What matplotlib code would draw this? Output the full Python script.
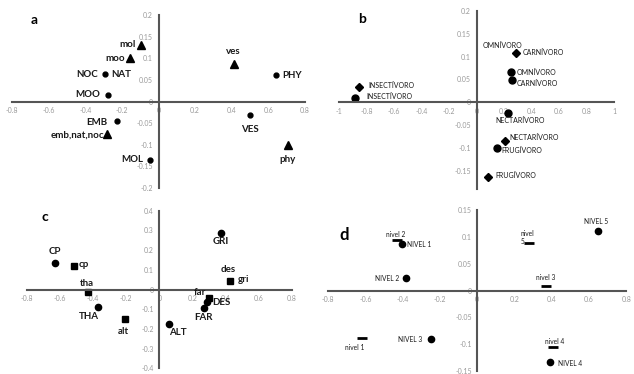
import numpy as np
import matplotlib
matplotlib.use("Agg")
import matplotlib.pyplot as plt
from matplotlib.ticker import FuncFormatter, MultipleLocator

plt.rcParams['font.family'] = ['Lato', 'DejaVu Sans']

# panel a: circles (upper case) and triangles (lower case)
a_dot_names = ['NOC', 'MOO', 'EMB', 'MOL', 'PHY', 'VES']
a_dot_x = [-0.29, -0.275, -0.228, -0.045, 0.64, 0.50]
a_dot_y = [0.063, 0.016, -0.044, -0.136, 0.061, -0.030]
a_tri_names = ['mol', 'moo', 'emb,nat,noc', 'ves', 'phy']
a_tri_x = [-0.095, -0.157, -0.282, 0.41, 0.705]
a_tri_y = [0.131, 0.100, -0.076, 0.086, -0.100]

# panel b: circles and diamonds
b_dot_names = ['INSECTÍVORO', 'OMNÍVORO', 'CARNÍVORO', 'NECTARÍVORO', 'FRUGÍVORO']
b_dot_x = [-0.881, 0.25, 0.255, 0.23, 0.15]
b_dot_y = [0.010, 0.066, 0.048, -0.024, -0.101]
b_dia_names = ['INSECTÍVORO', 'CARNÍVORO', 'NECTARÍVORO', 'FRUGÍVORO']
b_dia_x = [-0.857, 0.286, 0.204, 0.087]
b_dia_y = [0.034, 0.107, -0.085, -0.163]

# panel c: circles and squares
c_dot_names = ['CP', 'THA', 'ALT', 'GRI', 'DES', 'FAR']
c_dot_x = [-0.631, -0.37, 0.06, 0.37, 0.29, 0.27]
c_dot_y = [0.134, -0.090, -0.175, 0.288, -0.065, -0.095]
c_sq_names = ['cp', 'tha', 'alt', 'gri', 'far']
c_sq_x = [-0.515, -0.428, -0.209, 0.426, 0.30]
c_sq_y = [0.117, -0.015, -0.151, 0.044, -0.042]

# panel d: circles and dashes
d_dot_names = ['NIVEL 1', 'NIVEL 2', 'NIVEL 3', 'NIVEL 4', 'NIVEL 5']
d_dot_x = [-0.403, -0.381, -0.247, 0.388, 0.65]
d_dot_y = [0.086, 0.023, -0.091, -0.133, 0.111]
d_dash_names = ['nivel 1', 'nivel 2', 'nivel 3', 'nivel 4', 'nivel\n5']
d_dash_x = [-0.621, -0.433, 0.37, 0.408, 0.276]
d_dash_y = [-0.088, 0.094, 0.009, -0.106, 0.089]


def fmt(v, pos):
    v = round(v, 3)
    if v == 0:
        return '0'
    return f"{v:g}"


def setup_axes(ax, xlim, ylim, xstep, ystep):
    ax.set_xlim(xlim)
    ax.set_ylim(ylim)
    ax.spines['left'].set_position('zero')
    ax.spines['bottom'].set_position('zero')
    ax.spines['top'].set_visible(False)
    ax.spines['right'].set_visible(False)
    for s in ['left', 'bottom']:
        ax.spines[s].set_color('#555555')
        ax.spines[s].set_linewidth(1.5)
    ax.xaxis.set_major_locator(MultipleLocator(xstep))
    ax.yaxis.set_major_locator(MultipleLocator(ystep))
    ax.xaxis.set_major_formatter(FuncFormatter(fmt))
    ax.yaxis.set_major_formatter(FuncFormatter(fmt))
    ax.tick_params(length=0, labelsize=5, labelcolor='#9a9a9a', pad=4)
    ax.patch.set_alpha(0)


def label(ax, text, x, y, dx, dy, ha, bold, size, va='center'):
    ax.annotate(text, (x, y), xytext=(dx, dy), textcoords='offset pixels',
                ha=ha, va=va, fontsize=size, color='#1a1a1a',
                fontweight='bold' if bold else 'normal')


fig = plt.figure(figsize=(6.34, 3.74), dpi=100)

# ---- a ----
ax = fig.add_axes([0.019, 0.497, 0.462, 0.463])
setup_axes(ax, (-0.8, 0.8), (-0.2, 0.2), 0.2, 0.05)
ax.plot(a_dot_x, a_dot_y, 'o', color='black', ms=3.5)
ax.plot(a_tri_x, a_tri_y, '^', color='black', ms=6)
a_dot_off = [(-7, 0, 'right'), (-8, 0, 'right'), (-9, -2, 'right'),
             (-7, 1, 'right'), (7, 0, 'left'), (0, -15, 'center')]
for n, x, y, (dx, dy, ha) in zip(a_dot_names, a_dot_x, a_dot_y, a_dot_off):
    label(ax, n, x, y, dx, dy, ha, True, 7)
label(ax, 'NAT', a_dot_x[0], a_dot_y[0], 6, 0, 'left', True, 7)
a_tri_off = [(-5, 0, 'right'), (-5, 0, 'right'), (-3, -1, 'right'),
             (0, 13, 'center'), (0, -15, 'center')]
for n, x, y, (dx, dy, ha) in zip(a_tri_names, a_tri_x, a_tri_y, a_tri_off):
    label(ax, n, x, y, dx, dy, ha, True, 7)
fig.text(34 / 634, 1 - 20 / 374, 'a', fontsize=10, fontweight='bold', ha='center', va='center')

# ---- b ----
ax = fig.add_axes([0.5347, 0.4947, 0.4338, 0.476])
setup_axes(ax, (-1, 1), (-0.19, 0.2), 0.2, 0.05)
ax.plot(b_dot_x, b_dot_y, 'o', color='black', ms=5)
ax.plot(b_dia_x, b_dia_y, 'D', color='black', ms=4)
b_dot_off = [(11, 1, 'left'), (6, 0, 'left'), (5, -3, 'left'),
             (12, -7, 'center'), (4, -2, 'left')]
for n, x, y, (dx, dy, ha) in zip(b_dot_names, b_dot_x, b_dot_y, b_dot_off):
    label(ax, n, x, y, dx, dy, ha, False, 5)
b_dia_off = [(10, 1, 'left'), (7, 1, 'left'), (5, 4, 'left'), (7, 1, 'left')]
for n, x, y, (dx, dy, ha) in zip(b_dia_names, b_dia_x, b_dia_y, b_dia_off):
    label(ax, n, x, y, dx, dy, ha, False, 5)
label(ax, 'OMNÍVORO', b_dia_x[1], b_dia_y[1], -13, 8, 'center', False, 5)
fig.text(362 / 634, 1 - 19 / 374, 'b', fontsize=10, fontweight='bold', ha='center', va='center')

# ---- c ----
ax = fig.add_axes([0.0421, 0.0152, 0.4185, 0.4214])
setup_axes(ax, (-0.8, 0.8), (-0.4, 0.4), 0.2, 0.1)
ax.plot(c_dot_x, c_dot_y, 'o', color='black', ms=4.5)
ax.plot(c_sq_x, c_sq_y, 's', color='black', ms=4.5)
c_dot_off = [(0, 12, 'center'), (-9, -9, 'center'), (9, -9, 'center'),
             (0, -9, 'center'), (5, 0, 'left'), (-1, -9, 'center')]
for n, x, y, (dx, dy, ha) in zip(c_dot_names, c_dot_x, c_dot_y, c_dot_off):
    label(ax, n, x, y, dx, dy, ha, True, 7)
c_sq_off = [(5, 2, 'left'), (-1, 9, 'center'), (-1, -12, 'center'),
            (8, 1, 'left'), (-9, 5, 'center')]
for n, x, y, (dx, dy, ha) in zip(c_sq_names, c_sq_x, c_sq_y, c_sq_off):
    label(ax, n, x, y, dx, dy, ha, True, 7)
label(ax, 'des', c_sq_x[3], c_sq_y[3], -2, 11, 'center', True, 7)
fig.text(45 / 634, 1 - 217 / 374, 'c', fontsize=10, fontweight='bold', ha='center', va='center')

# ---- d ----
ax = fig.add_axes([0.5178, 0.008, 0.470, 0.4305])
setup_axes(ax, (-0.8, 0.8), (-0.15, 0.15), 0.2, 0.05)
ax.plot(d_dot_x, d_dot_y, 'o', color='black', ms=4.5)
ax.plot(d_dash_x, d_dash_y, '_', color='black', ms=7, mew=2)
d_dot_off = [(5, 0, 'left'), (-7, 0, 'right'), (-9, 0, 'right'),
             (8, -2, 'left'), (-2, 9, 'center')]
for n, x, y, (dx, dy, ha) in zip(d_dot_names, d_dot_x, d_dot_y, d_dot_off):
    label(ax, n, x, y, dx, dy, ha, False, 4.8)
d_dash_off = [(-7, -10, 'center'), (-1, 6, 'center'), (0, 8, 'center'),
              (-8, 6, 'left'), (-8, 5, 'left')]
for n, x, y, (dx, dy, ha) in zip(d_dash_names, d_dash_x, d_dash_y, d_dash_off):
    label(ax, n, x, y, dx, dy, ha, False, 4.8)
fig.text(344 / 634, 1 - 235 / 374, 'd', fontsize=12, fontweight='bold', ha='center', va='center')

fig.savefig('out.png', dpi=100)
